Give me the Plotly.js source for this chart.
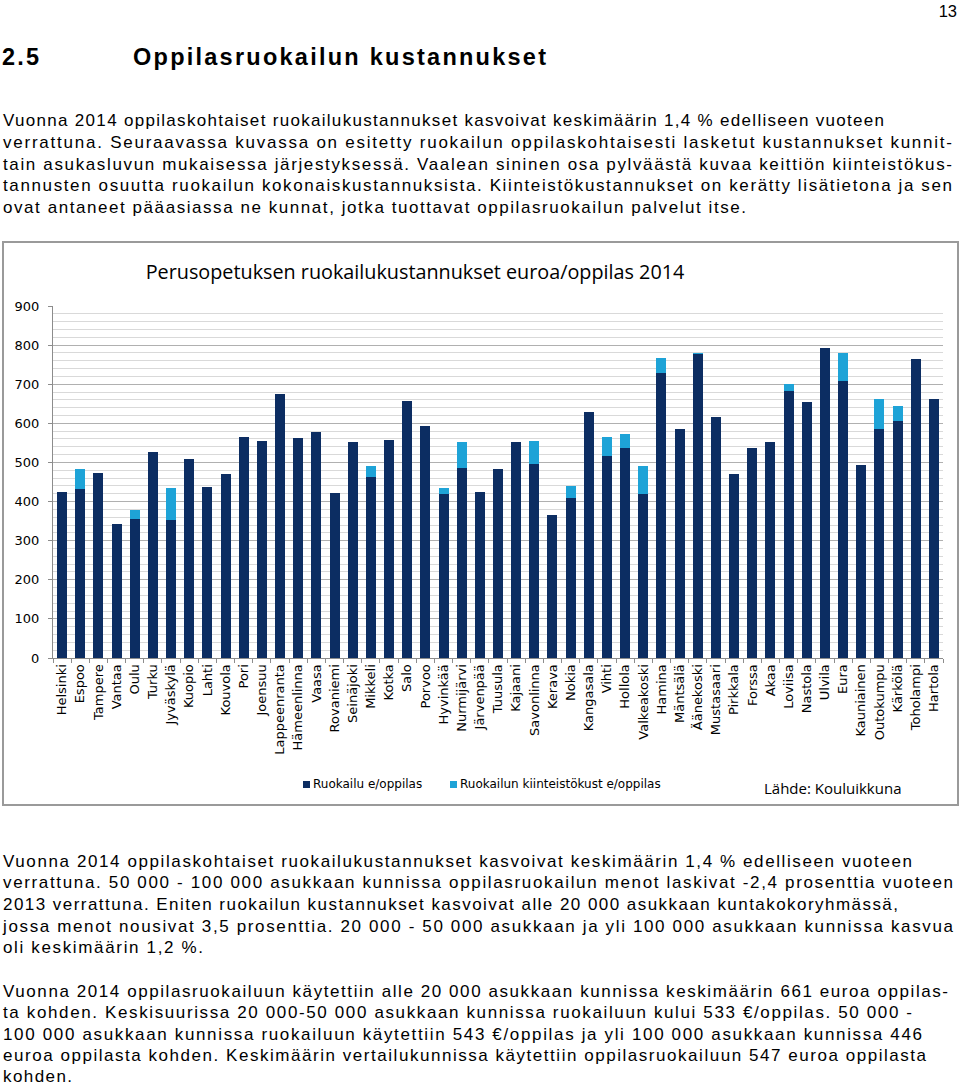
<!DOCTYPE html>
<html>
<head>
<meta charset="utf-8">
<script src="https://cdn.plot.ly/plotly-3.0.1.min.js"></script>
<style>
  html, body { margin: 0; padding: 0; background: #fff; }
  #page { position: relative; width: 960px; height: 1086px; overflow: hidden; background: #fff; }
  #box { position: absolute; left: 2px; top: 241px; width: 953px; height: 561px; border: 2px solid #9a9a9a; }
  #chart { position: absolute; left: 0; top: 0; width: 960px; height: 1086px; }
  #txt { position: absolute; left: 0; top: 0; width: 960px; height: 1086px; pointer-events: none; }
  #txt text { font-family: "Liberation Sans", Arial, sans-serif; fill: #000; }
</style>
</head>
<body>
<div id="page">
  <div id="box"></div>
  <div id="chart"></div>
  <svg id="txt" width="960" height="1086"></svg>
</div>
<script>
// ---- data ----
const categories = ["Helsinki","Espoo","Tampere","Vantaa","Oulu","Turku","Jyväskylä","Kuopio","Lahti","Kouvola",
  "Pori","Joensuu","Lappeenranta","Hämeenlinna","Vaasa","Rovaniemi","Seinäjoki","Mikkeli","Kotka","Salo",
  "Porvoo","Hyvinkää","Nurmijärvi","Järvenpää","Tuusula","Kajaani","Savonlinna","Kerava","Nokia","Kangasala",
  "Vihti","Hollola","Valkeakoski","Hamina","Mäntsälä","Äänekoski","Mustasaari","Pirkkala","Forssa","Akaa",
  "Loviisa","Nastola","Ulvila","Eura","Kauniainen","Outokumpu","Kärkölä","Toholampi","Hartola"];
const ruokailu = [424,431,472,343,356,526,352,510,438,471,
  564,555,674,562,578,422,552,462,558,656,
  594,420,487,424,482,552,497,366,410,628,
  516,538,420,728,585,777,616,471,537,553,
  683,654,793,707,493,585,606,764,661];
const kiinteisto = [0,51,0,0,23,0,83,0,0,0,
  0,0,2,0,0,0,0,30,0,0,
  0,15,65,0,0,0,57,0,31,0,
  49,34,70,40,0,2,0,0,0,0,
  18,0,0,72,0,78,39,0,0];
const seriesNames = ["Ruokailu e/oppilas", "Ruokailun kiinteistökust e/oppilas"];
const yTicks = [0,100,200,300,400,500,600,700,800,900];
const chartTitle = "Perusopetuksen ruokailukustannukset euroa/oppilas 2014";
const sourceText = "Lähde: Kouluikkuna";

const darkColor = "#0c2d62";
const lightColor = "#1ea3d7";

// plot area in page pixels
const PL = 53, PR = 943, PT = 306, PB = 658;
const px2x = p => (p - PL) / (PR - PL);
const py2y = p => (PB - p) / (PB - PT);

const traces = [
  { type: "bar", name: seriesNames[0], x: categories, y: ruokailu, marker: { color: darkColor }, hoverinfo: "x+y" },
  { type: "bar", name: seriesNames[1], x: categories, y: kiinteisto, marker: { color: lightColor }, hoverinfo: "x+y" }
];

const layout = {
  width: 960, height: 1086,
  margin: { l: PL, r: 960 - PR, t: PT, b: 1086 - PB, pad: 0 },
  paper_bgcolor: "rgba(0,0,0,0)", plot_bgcolor: "rgba(0,0,0,0)",
  barmode: "stack", bargap: 0.45,
  showlegend: false,
  title: { text: chartTitle, font: { family: "Open Sans, sans-serif", size: 19.8, color: "#000" },
           x: (415 / 960), xref: "container", xanchor: "center", y: 1 - 272 / 1086, yref: "container", yanchor: "middle" },
  xaxis: {
    type: "category", range: [-0.5, categories.length - 0.5],
    tickangle: -90, tickfont: { family: "DejaVu Sans, sans-serif", size: 13, color: "#000" },
    showline: true, linecolor: "#8c8c8c", linewidth: 1,
    ticks: "outside", ticklen: 4, tickcolor: "#8c8c8c", tickson: "boundaries",
    showgrid: false, zeroline: false, automargin: false
  },
  yaxis: {
    range: [0, 900], tickvals: yTicks, ticktext: yTicks.map(String),
    tickfont: { family: "DejaVu Sans, sans-serif", size: 13, color: "#000" },
    showline: true, linecolor: "#8c8c8c", linewidth: 1,
    ticks: "outside", ticklen: 4, tickcolor: "#8c8c8c", ticklabelstandoff: 6,
    showgrid: true, gridcolor: "#b0b0b0", gridwidth: 1,
    minor: { dtick: 20, showgrid: true, gridcolor: "#d9d9d9", gridwidth: 1, ticks: "" },
    zeroline: false, automargin: false
  },
  shapes: [
    { type: "rect", xref: "paper", yref: "paper", x0: px2x(303), x1: px2x(310), y0: py2y(788), y1: py2y(781), fillcolor: darkColor, line: { width: 0 } },
    { type: "rect", xref: "paper", yref: "paper", x0: px2x(450), x1: px2x(457), y0: py2y(788), y1: py2y(781), fillcolor: lightColor, line: { width: 0 } }
  ],
  annotations: [
    { xref: "paper", yref: "paper", x: px2x(311), y: py2y(784), xanchor: "left", yanchor: "middle", showarrow: false,
      text: seriesNames[0], font: { family: "DejaVu Sans, sans-serif", size: 12, color: "#000" } },
    { xref: "paper", yref: "paper", x: px2x(458), y: py2y(784), xanchor: "left", yanchor: "middle", showarrow: false,
      text: seriesNames[1], font: { family: "DejaVu Sans, sans-serif", size: 12, color: "#000" } },
    { xref: "paper", yref: "paper", x: px2x(762), y: py2y(788), xanchor: "left", yanchor: "middle", showarrow: false,
      text: sourceText, font: { family: "Open Sans, sans-serif", size: 15, color: "#000" } }
  ]
};

Plotly.newPlot("chart", traces, layout, { displayModeBar: false, staticPlot: true });

// ---- page text ----
const pageNumber = "13";
const headingNum = "2.5";
const headingText = "Oppilasruokailun kustannukset";
const introLines = [
  "Vuonna 2014 oppilaskohtaiset ruokailukustannukset kasvoivat keskimäärin 1,4 % edelliseen vuoteen",
  "verrattuna. Seuraavassa kuvassa on esitetty ruokailun oppilaskohtaisesti lasketut kustannukset kunnit-",
  "tain asukasluvun mukaisessa järjestyksessä. Vaalean sininen osa pylväästä kuvaa keittiön kiinteistökus-",
  "tannusten osuutta ruokailun kokonaiskustannuksista. Kiinteistökustannukset on kerätty lisätietona ja sen",
  "ovat antaneet pääasiassa ne kunnat, jotka tuottavat oppilasruokailun palvelut itse."
];
const introEnds = [884, 952, 952, 952, 746];
const outroLines = [
  "Vuonna 2014 oppilaskohtaiset ruokailukustannukset kasvoivat keskimäärin 1,4 % edelliseen vuoteen",
  "verrattuna. 50 000 - 100 000 asukkaan kunnissa oppilasruokailun menot laskivat -2,4 prosenttia vuoteen",
  "2013 verrattuna. Eniten ruokailun kustannukset kasvoivat alle 20 000 asukkaan kuntakokoryhmässä,",
  "jossa menot nousivat 3,5 prosenttia. 20 000 - 50 000 asukkaan ja yli 100 000 asukkaan kunnissa kasvua",
  "oli keskimäärin 1,2 %.",
  "Vuonna 2014 oppilasruokailuun käytettiin alle 20 000 asukkaan kunnissa keskimäärin 661 euroa oppilas-",
  "ta kohden. Keskisuurissa 20 000-50 000 asukkaan kunnissa ruokailuun kului 533 €/oppilas. 50 000 -",
  "100 000 asukkaan kunnissa ruokailuun käytettiin 543 €/oppilas ja yli 100 000 asukkaan kunnissa 446",
  "euroa oppilasta kohden. Keskimäärin vertailukunnissa käytettiin oppilasruokailuun 547 euroa oppilasta",
  "kohden."
];
const outroEnds = [912, 953, 898, 953, 203, 948, 912, 922, 926, 72];
const outroBase = [866.5, 888.2, 909.9, 931.6, 953.3, 996.5, 1018, 1039.5, 1061, 1081.5];

const svg = document.getElementById("txt");
const NS = "http://www.w3.org/2000/svg";
function addText(str, x, y, size, opts) {
  opts = opts || {};
  const t = document.createElementNS(NS, "text");
  t.setAttribute("x", x);
  t.setAttribute("y", y);
  t.setAttribute("font-size", size);
  if (opts.weight) t.setAttribute("font-weight", opts.weight);
  if (opts.anchor) t.setAttribute("text-anchor", opts.anchor);
  if (opts.len) { t.setAttribute("textLength", opts.len); t.setAttribute("lengthAdjust", "spacing"); }
  t.textContent = str;
  svg.appendChild(t);
  return t;
}
addText(pageNumber, 957, 17, 16.5, { anchor: "end" });
addText(headingNum, 2, 65, 23.5, { weight: "bold", len: 37 });
addText(headingText, 133, 65, 23.5, { weight: "bold", len: 413 });
introLines.forEach((s, i) => addText(s, 3, 126 + 21.8 * i, 17, { len: introEnds[i] - 3 }));
outroLines.forEach((s, i) => addText(s, 3, outroBase[i], 17, { len: outroEnds[i] - 3 }));
</script>
</body>
</html>
